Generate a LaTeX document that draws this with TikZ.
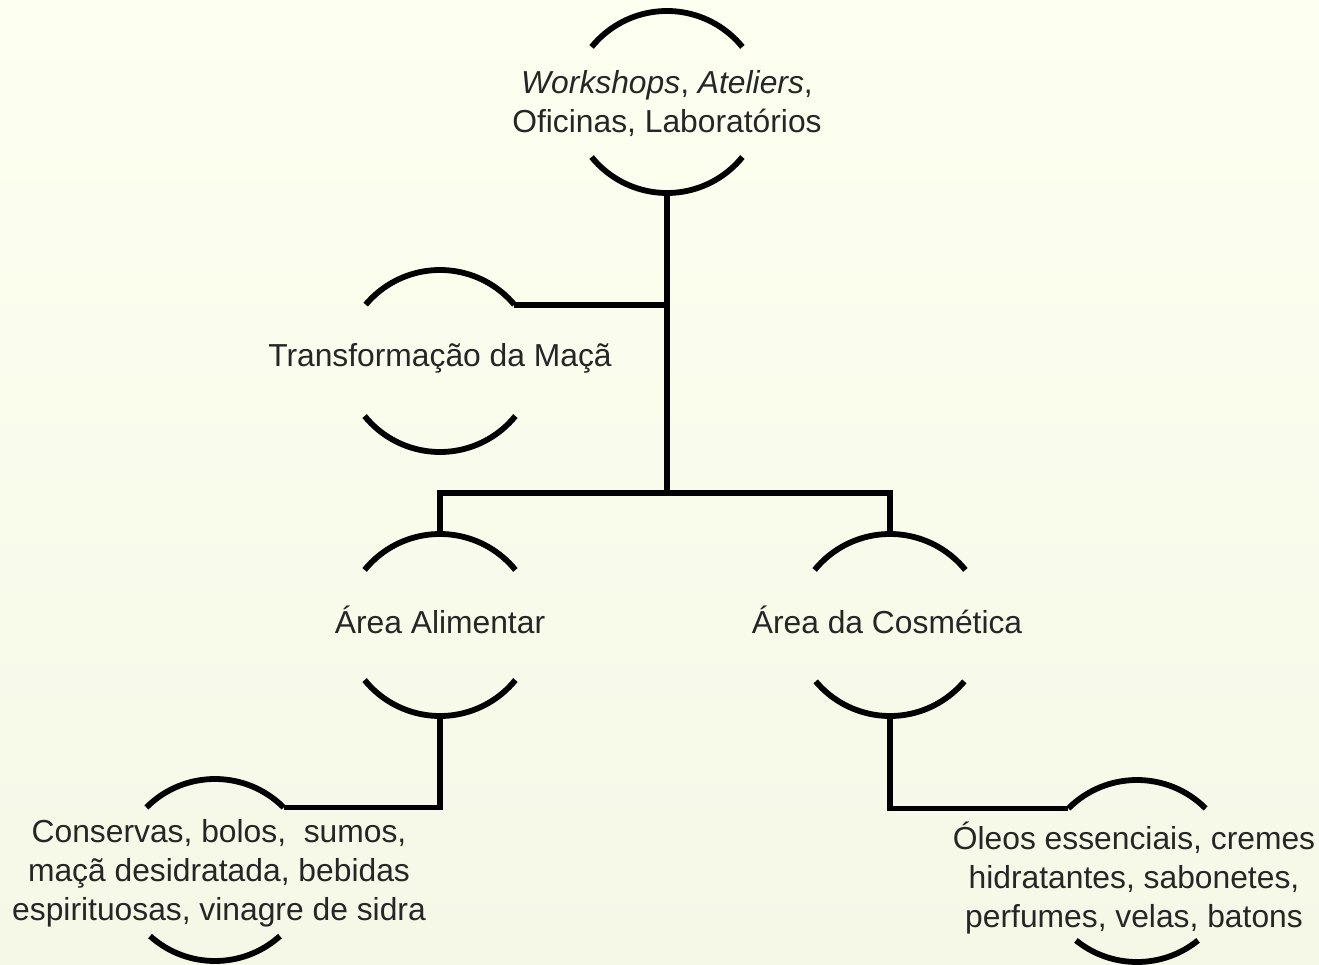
\documentclass[tikz,border=0pt]{standalone}
\usepackage{fontspec}
\setmainfont{Liberation Sans}
\usetikzlibrary{calc}
\definecolor{bgtop}{HTML}{FDFFF0}
\definecolor{bgbot}{HTML}{F5F7E7}
\definecolor{ink}{HTML}{262626}
\tikzset{
  txt/.style={align=center, font=\fontsize{31.8}{39}\selectfont, text=ink, inner sep=0pt},
  arcl/.style={line width=5.8pt, draw=black},
  conn/.style={line width=5.8pt, draw=black, line join=miter},
}
% #1 name, #2 centre x, #3 arc centre y (px, downwards), #4 text position,
% #5 top half angle, #6 bottom half angle, #7 text
\newcommand\bub[7]{%
  \node[txt] (#1) at (#4) {#7};
  \coordinate (#1-tc) at (#2,-#3-6);
  \coordinate (#1-bc) at (#2,-#3+6);
  \coordinate (#1-t) at (#2,-#3+91);
  \coordinate (#1-b) at (#2,-#3-91);
  \coordinate (#1-tl) at ($(#1-tc)+({90+#5}:97)$);
  \coordinate (#1-tr) at ($(#1-tc)+({90-#5}:97)$);
  \draw[arcl] (#1-tl) arc[start angle={90+#5}, end angle={90-#5}, radius=97];
  \draw[arcl] ($(#1-bc)+({270-#6}:97)$) arc[start angle={270-#6}, end angle={270+#6}, radius=97];
}
\begin{document}
\begin{tikzpicture}[x=1pt,y=1pt]
  \shade[top color=bgtop, bottom color=bgbot] (0,0) rectangle (1319,-965);
  \useasboundingbox (0,0) rectangle (1319,-965);

  \bub{n1}{667}{102}{667,-104}{51}{51}{\textit{Workshops}, \textit{Ateliers},\\Oficinas, Laboratórios}
  \bub{n2}{440}{361}{440,-358}{50}{51}{Transformação da Maçã}
  \bub{n3}{440}{625}{440,-620}{51}{51}{Área Alimentar}
  \bub{n4}{890}{625}{887,-620}{51}{50}{Área da Cosmética}
  \bub{n5}{215}{870}{219,-873}{45}{42}{Conservas, bolos,\ \ sumos,\\maçã desidratada, bebidas\\espirituosas, vinagre de sidra}
  \bub{n6}{1137}{871}{1134,-878}{45}{39}{Óleos essenciais, cremes\\hidratantes, sabonetes,\\perfumes, velas, batons}

  \coordinate (j) at (667,-493);
  \draw[conn] (n1-b) -- (j);
  \draw[conn] (n2-tr) -- (n2-tr -| j);
  \draw[conn] (n3-t) -- (n3-t |- j) -- (n4-t |- j) -- (n4-t);
  \draw[conn] (n3-b) |- (n5-tr);
  \draw[conn] (n4-b) |- (n6-tl);
\end{tikzpicture}
\end{document}
